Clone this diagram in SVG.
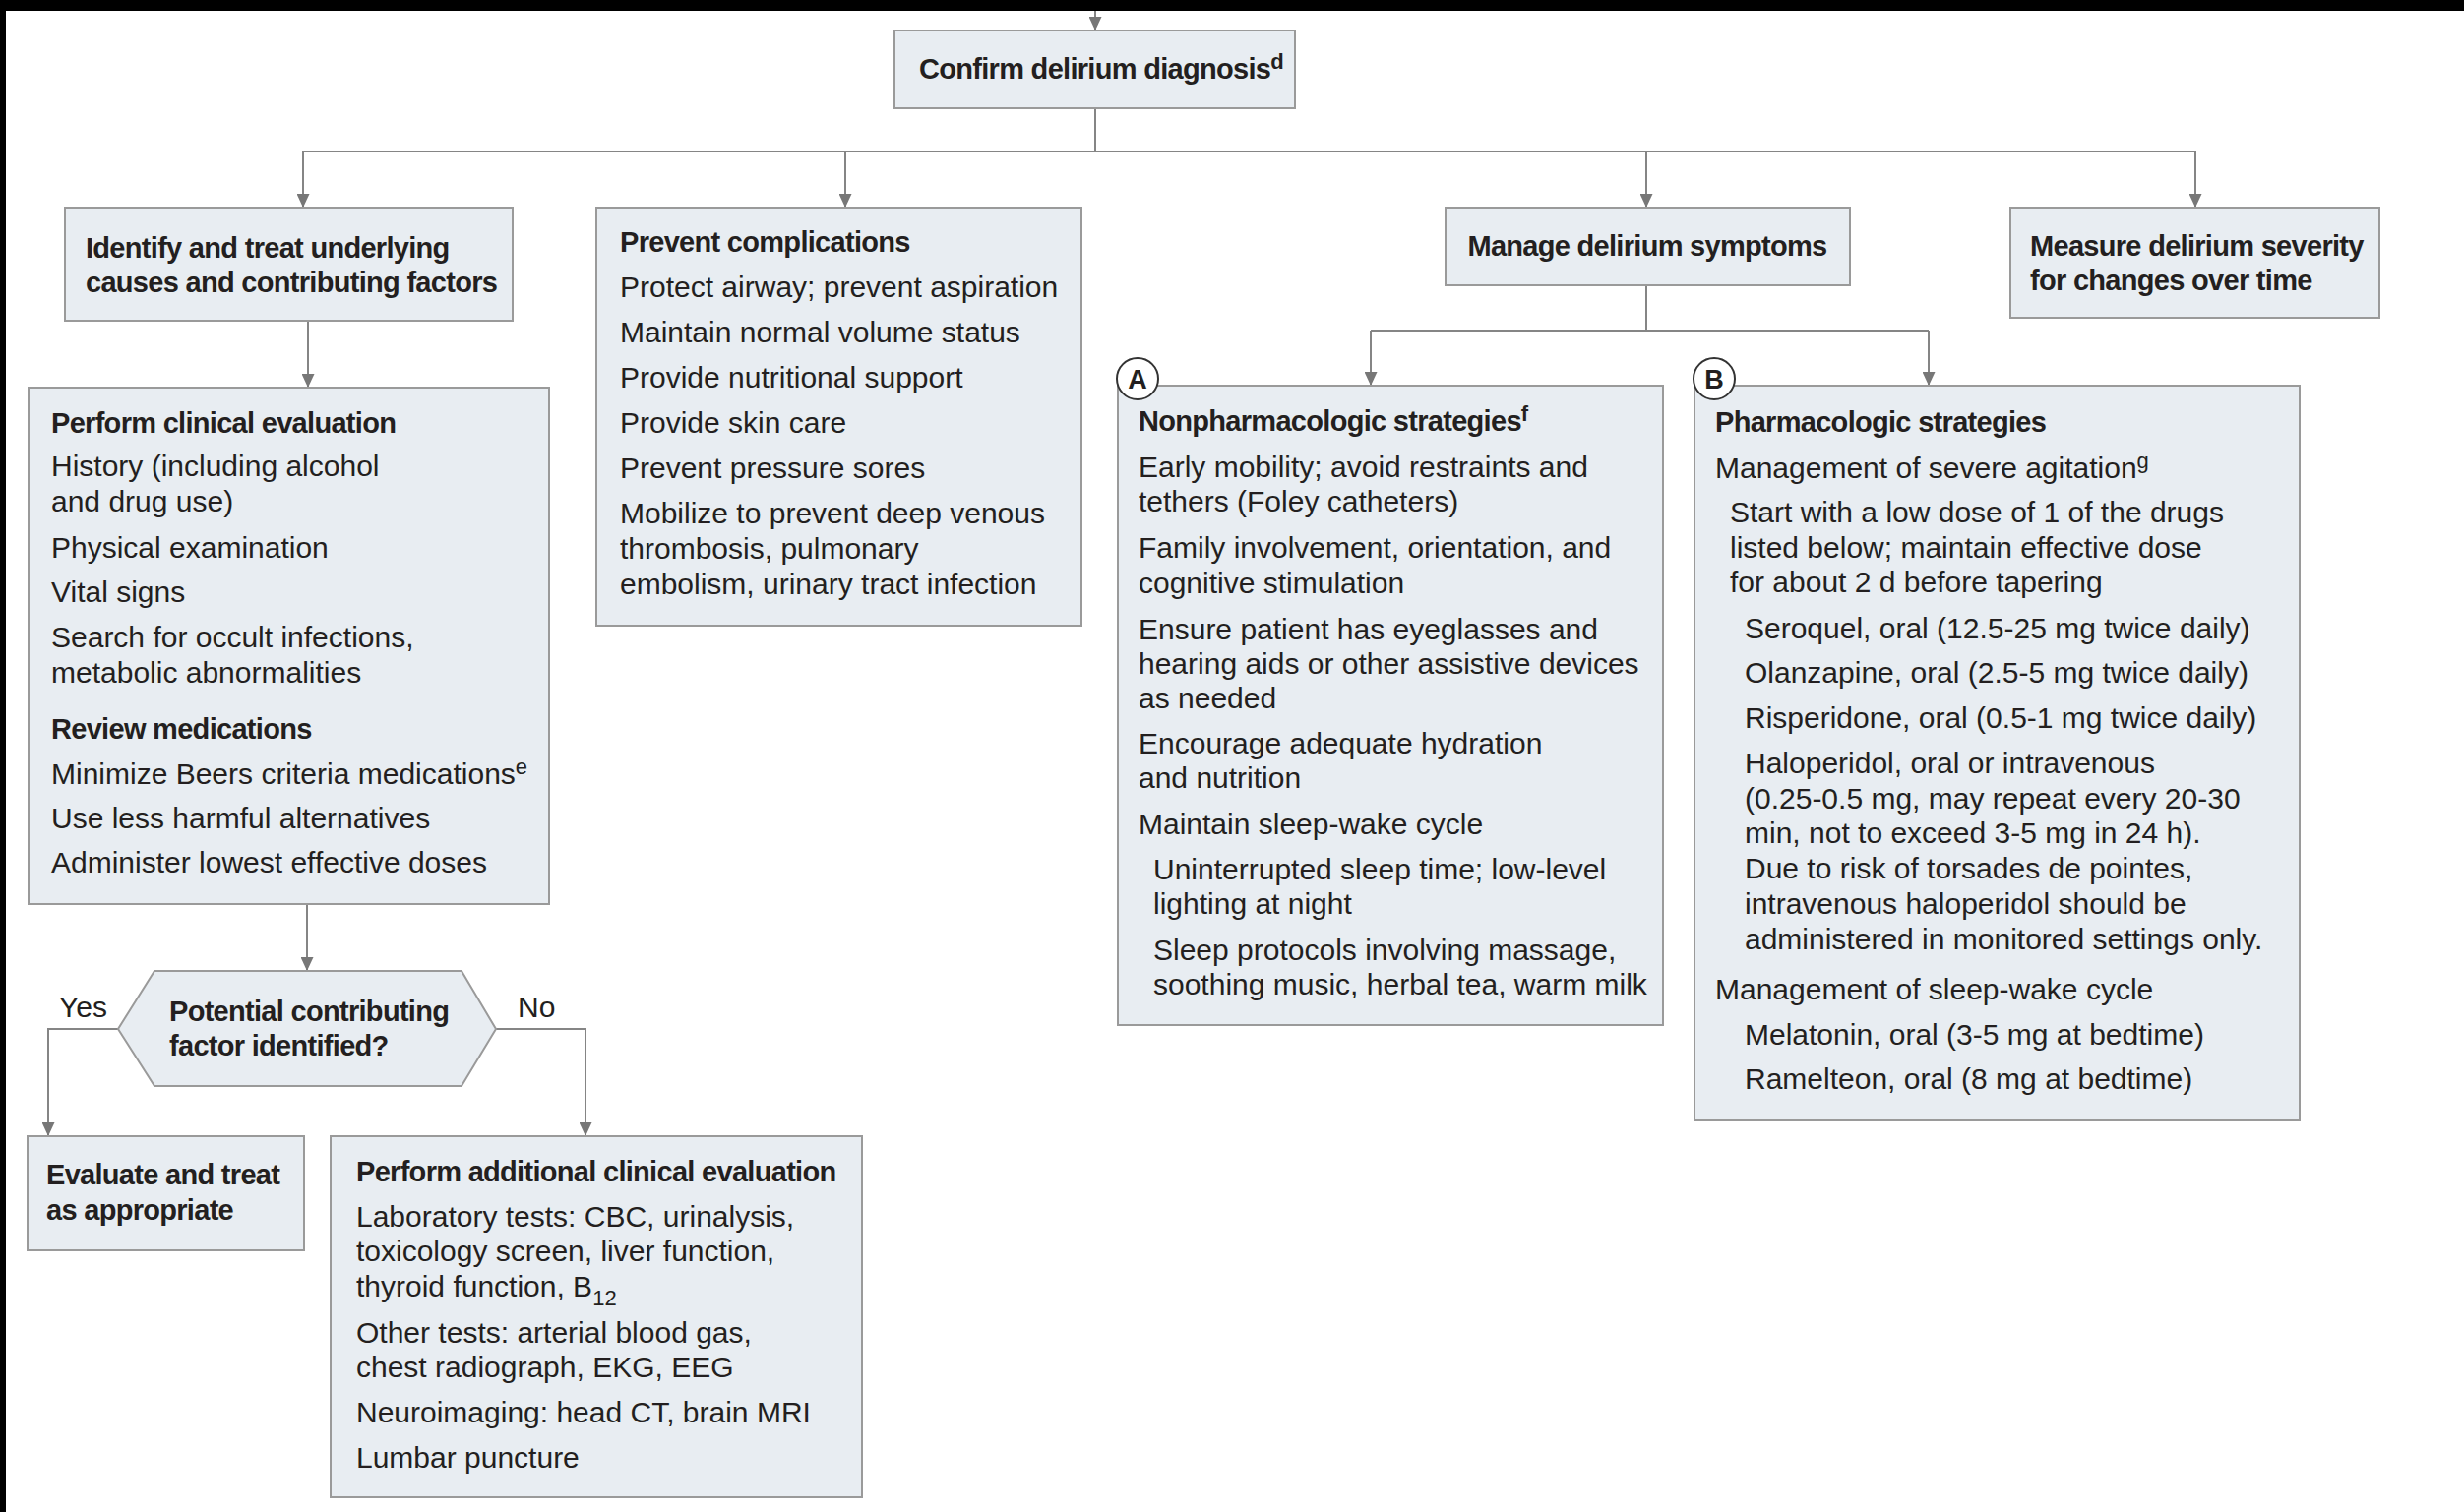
<svg xmlns="http://www.w3.org/2000/svg" width="2504" height="1537" viewBox="0 0 2504 1537">
<style>
.box{fill:#e8edf2;stroke:#9a9a9a;stroke-width:2}
.t{font-family:"Liberation Sans",Arial,sans-serif;font-size:30px;fill:#231f20}
.b{font-weight:bold;font-size:29px;letter-spacing:-0.7px}
.sup{font-size:22px;letter-spacing:0}
.conn{stroke:#858585;stroke-width:2;fill:none}
.circ{fill:#ffffff;stroke:#333333;stroke-width:2}
</style>
<defs>
<marker id="arr" viewBox="0 0 14 13" refX="14" refY="6.5" markerWidth="14" markerHeight="13" markerUnits="userSpaceOnUse" orient="auto">
<path d="M0,0 L14,6.5 L0,13 z" fill="#777777"/>
</marker>
</defs>
<rect x="0" y="0" width="2504" height="1537" fill="#ffffff"/>
<rect x="0" y="0" width="2504" height="11" fill="#000000"/>
<rect x="0" y="0" width="6" height="1537" fill="#000000"/>

<g id="connectors">
<path class="conn" d="M1113,11 V31" marker-end="url(#arr)"/>
<path class="conn" d="M1113,110 V154"/>
<path class="conn" d="M308,154 H2231"/>
<path class="conn" d="M308,154 V211" marker-end="url(#arr)"/>
<path class="conn" d="M859,154 V211" marker-end="url(#arr)"/>
<path class="conn" d="M1673,154 V211" marker-end="url(#arr)"/>
<path class="conn" d="M2231,154 V211" marker-end="url(#arr)"/>
<path class="conn" d="M313,326 V394" marker-end="url(#arr)"/>
<path class="conn" d="M312,919 V987" marker-end="url(#arr)"/>
<path class="conn" d="M120,1046 H49 V1155" marker-end="url(#arr)"/>
<path class="conn" d="M504,1046 H595 V1155" marker-end="url(#arr)"/>
<path class="conn" d="M1673,290 V336"/>
<path class="conn" d="M1393,336 H1960"/>
<path class="conn" d="M1393,336 V392" marker-end="url(#arr)"/>
<path class="conn" d="M1960,336 V392" marker-end="url(#arr)"/>
<text class="t" x="60" y="1034">Yes</text>
<text class="t" x="526" y="1034">No</text>
</g>

<g id="confirm">
<rect class="box" x="909" y="31" width="407" height="79"/>
<text class="t b" x="934" y="80">Confirm delirium diagnosis<tspan class="sup" dy="-10">d</tspan></text>
</g>

<g id="identify">
<rect class="box" x="66" y="211" width="455" height="115"/>
<text class="t b" x="87" y="262">Identify and treat underlying</text>
<text class="t b" x="87" y="297">causes and contributing factors</text>
</g>

<g id="prevent">
<rect class="box" x="606" y="211" width="493" height="425"/>
<text class="t b" x="630" y="256">Prevent complications</text>
<text class="t" x="630" y="302">Protect airway; prevent aspiration</text>
<text class="t" x="630" y="348">Maintain normal volume status</text>
<text class="t" x="630" y="394">Provide nutritional support</text>
<text class="t" x="630" y="440">Provide skin care</text>
<text class="t" x="630" y="486">Prevent pressure sores</text>
<text class="t" x="630" y="532">Mobilize to prevent deep venous</text>
<text class="t" x="630" y="568">thrombosis, pulmonary</text>
<text class="t" x="630" y="604">embolism, urinary tract infection</text>
</g>

<g id="manage">
<rect class="box" x="1469" y="211" width="411" height="79"/>
<text class="t b" x="1674" y="260" text-anchor="middle">Manage delirium symptoms</text>
</g>

<g id="measure">
<rect class="box" x="2043" y="211" width="375" height="112"/>
<text class="t b" x="2063" y="260">Measure delirium severity</text>
<text class="t b" x="2063" y="295">for changes over time</text>
</g>

<g id="clinical-eval">
<rect class="box" x="29" y="394" width="529" height="525"/>
<text class="t b" x="52" y="440">Perform clinical evaluation</text>
<text class="t" x="52" y="484">History (including alcohol</text>
<text class="t" x="52" y="520">and drug use)</text>
<text class="t" x="52" y="567">Physical examination</text>
<text class="t" x="52" y="612">Vital signs</text>
<text class="t" x="52" y="658">Search for occult infections,</text>
<text class="t" x="52" y="694">metabolic abnormalities</text>
<text class="t b" x="52" y="751">Review medications</text>
<text class="t" x="52" y="797">Minimize Beers criteria medications<tspan class="sup" dy="-10">e</tspan></text>
<text class="t" x="52" y="842">Use less harmful alternatives</text>
<text class="t" x="52" y="887">Administer lowest effective doses</text>
</g>

<g id="decision">
<polygon class="box" points="157,987 469,987 504,1046 469,1104 157,1104 120,1046"/>
<text class="t b" x="172" y="1038">Potential contributing</text>
<text class="t b" x="172" y="1073">factor identified?</text>
</g>

<g id="evaluate-treat">
<rect class="box" x="28" y="1155" width="281" height="116"/>
<text class="t b" x="47" y="1204">Evaluate and treat</text>
<text class="t b" x="47" y="1240">as appropriate</text>
</g>

<g id="additional-eval">
<rect class="box" x="336" y="1155" width="540" height="367"/>
<text class="t b" x="362" y="1201">Perform additional clinical evaluation</text>
<text class="t" x="362" y="1247">Laboratory tests: CBC, urinalysis,</text>
<text class="t" x="362" y="1282">toxicology screen, liver function,</text>
<text class="t" x="362" y="1318">thyroid function, B<tspan class="sup" dy="9">12</tspan></text>
<text class="t" x="362" y="1365">Other tests: arterial blood gas,</text>
<text class="t" x="362" y="1400">chest radiograph, EKG, EEG</text>
<text class="t" x="362" y="1446">Neuroimaging: head CT, brain MRI</text>
<text class="t" x="362" y="1492">Lumbar puncture</text>
</g>

<g id="nonpharm">
<rect class="box" x="1136" y="392" width="554" height="650"/>
<circle class="circ" cx="1156" cy="385" r="21"/>
<text class="t b" x="1156" y="395" text-anchor="middle" style="font-size:27px;letter-spacing:0">A</text>
<text class="t b" x="1157" y="438">Nonpharmacologic strategies<tspan class="sup" dy="-10">f</tspan></text>
<text class="t" x="1157" y="485">Early mobility; avoid restraints and</text>
<text class="t" x="1157" y="520">tethers (Foley catheters)</text>
<text class="t" x="1157" y="567">Family involvement, orientation, and</text>
<text class="t" x="1157" y="603">cognitive stimulation</text>
<text class="t" x="1157" y="650">Ensure patient has eyeglasses and</text>
<text class="t" x="1157" y="685">hearing aids or other assistive devices</text>
<text class="t" x="1157" y="720">as needed</text>
<text class="t" x="1157" y="766">Encourage adequate hydration</text>
<text class="t" x="1157" y="801">and nutrition</text>
<text class="t" x="1157" y="848">Maintain sleep-wake cycle</text>
<text class="t" x="1172" y="894">Uninterrupted sleep time; low-level</text>
<text class="t" x="1172" y="929">lighting at night</text>
<text class="t" x="1172" y="976">Sleep protocols involving massage,</text>
<text class="t" x="1172" y="1011">soothing music, herbal tea, warm milk</text>
</g>

<g id="pharm">
<rect class="box" x="1722" y="392" width="615" height="747"/>
<circle class="circ" cx="1742" cy="385" r="21"/>
<text class="t b" x="1742" y="395" text-anchor="middle" style="font-size:27px;letter-spacing:0">B</text>
<text class="t b" x="1743" y="439">Pharmacologic strategies</text>
<text class="t" x="1743" y="486">Management of severe agitation<tspan class="sup" dy="-10">g</tspan></text>
<text class="t" x="1758" y="531">Start with a low dose of 1 of the drugs</text>
<text class="t" x="1758" y="567">listed below; maintain effective dose</text>
<text class="t" x="1758" y="602">for about 2 d before tapering</text>
<text class="t" x="1773" y="649">Seroquel, oral (12.5-25 mg twice daily)</text>
<text class="t" x="1773" y="694">Olanzapine, oral (2.5-5 mg twice daily)</text>
<text class="t" x="1773" y="740">Risperidone, oral (0.5-1 mg twice daily)</text>
<text class="t" x="1773" y="786">Haloperidol, oral or intravenous</text>
<text class="t" x="1773" y="822">(0.25-0.5 mg, may repeat every 20-30</text>
<text class="t" x="1773" y="857">min, not to exceed 3-5 mg in 24 h).</text>
<text class="t" x="1773" y="893">Due to risk of torsades de pointes,</text>
<text class="t" x="1773" y="929">intravenous haloperidol should be</text>
<text class="t" x="1773" y="965">administered in monitored settings only.</text>
<text class="t" x="1743" y="1016">Management of sleep-wake cycle</text>
<text class="t" x="1773" y="1062">Melatonin, oral (3-5 mg at bedtime)</text>
<text class="t" x="1773" y="1107">Ramelteon, oral (8 mg at bedtime)</text>
</g>
</svg>
